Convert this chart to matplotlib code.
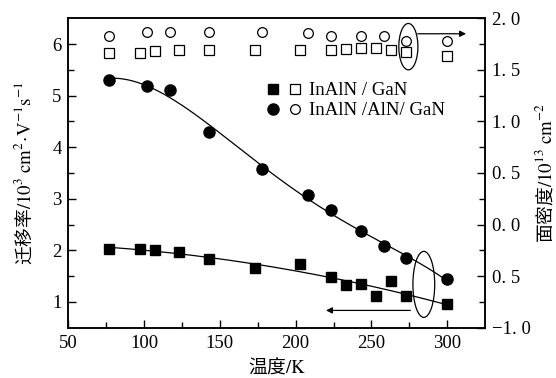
import numpy as np
import matplotlib
matplotlib.use("Agg")
import matplotlib.pyplot as plt
from matplotlib.patches import Ellipse
from matplotlib.lines import Line2D
from matplotlib.legend_handler import HandlerTuple

plt.rcParams["font.family"] = ["Liberation Serif", "Noto Sans CJK SC"]
plt.rcParams["mathtext.fontset"] = "stix"
plt.rcParams["font.size"] = 13.5

# InAlN/GaN
T_sq = [77, 97, 107, 123, 143, 173, 203, 223, 233, 243, 253, 263, 273, 300]
mu_sq = [2.03, 2.03, 2.00, 1.96, 1.84, 1.65, 1.74, 1.48, 1.33, 1.35, 1.12, 1.40, 1.11, 0.95]
ns_sq = [1.66, 1.66, 1.68, 1.69, 1.69, 1.69, 1.69, 1.69, 1.70, 1.71, 1.71, 1.69, 1.67, 1.63]

# InAlN/AlN/GaN
T_ci = [77, 102, 117, 143, 178, 208, 223, 243, 258, 273, 300]
mu_ci = [5.31, 5.18, 5.11, 4.29, 3.57, 3.08, 2.79, 2.37, 2.09, 1.85, 1.44]
ns_ci = [1.83, 1.87, 1.87, 1.87, 1.87, 1.86, 1.83, 1.83, 1.83, 1.78, 1.78]

left_ticks = [1, 2, 3, 4, 5, 6]
right_ticks = [2.0, 1.5, 1.0, 0.5, 0.0, -0.5, -1.0]
right_labels = ["2. 0", "1. 5", "1. 0", "0. 5", "0. 0", "0. 5", "\u22121. 0"]
x_ticks = [50, 100, 150, 200, 250, 300]

cjk = "Noto Sans CJK SC"

fig = plt.figure(figsize=(5.56, 3.78), dpi=100)
ax = fig.add_axes([0.1232, 0.1331, 0.8723 - 0.1232, 0.9516 - 0.1331])
ax2 = ax.twinx()

# fitted curves through the mobility points
tt = np.linspace(min(T_ci), max(T_ci), 200)
ax.plot(tt, np.polyval(np.polyfit(T_ci, mu_ci, 4), tt), color="k", lw=0.9)
tt = np.linspace(min(T_sq), max(T_sq), 200)
ax.plot(tt, np.polyval(np.polyfit(T_sq, mu_sq, 2), tt), color="k", lw=0.9)

ax.plot(T_sq, mu_sq, ls="none", marker="s", ms=7.2, color="k")
ax.plot(T_ci, mu_ci, ls="none", marker="o", ms=8, color="k")
ax2.plot(T_sq, ns_sq, ls="none", marker="s", ms=6.5, mfc="white", mec="k", mew=0.9)
ax2.plot(T_ci, ns_ci, ls="none", marker="o", ms=7, mfc="white", mec="k", mew=0.9)

ax.set_xlim(50, 325)
ax.set_ylim(0.5, 6.5)
ax2.set_ylim(-1.0, 2.0)

ax.set_xticks(x_ticks)
ax.set_xticks(np.arange(75, 325, 50), minor=True)
ax.set_yticks(left_ticks)
ax.set_yticks(np.arange(1.5, 6.5, 1.0), minor=True)
ax2.set_yticks(right_ticks)
ax2.set_yticklabels(right_labels)
ax2.set_yticks(np.arange(-0.75, 2.0, 0.5), minor=True)

for a in (ax, ax2):
    for s in a.spines.values():
        s.set_linewidth(1.1)
ax.tick_params(which="both", direction="in", top=False, right=False, width=1.0)
ax.tick_params(which="major", length=6, pad=5)
ax.tick_params(which="minor", length=4)
ax2.tick_params(which="both", direction="in", width=1.0)
ax2.tick_params(which="major", length=6, pad=5)
ax2.tick_params(which="minor", length=4)

ax.set_xlabel("温度$/\\mathrm{K}$", fontfamily=cjk, fontsize=13.5, va="center")
ax.xaxis.set_label_coords(0.5, -0.128)
ax.set_ylabel("迁移率$/10^3\\ \\mathrm{cm}^2\\!\\cdot\\!\\mathrm{V}^{-1}\\mathrm{s}^{-1}$",
              fontfamily=cjk, fontsize=13.5, va="center")
ax.yaxis.set_label_coords(-0.104, 0.5)
ax2.set_ylabel("面密度$/10^{13}\\ \\mathrm{cm}^{-2}$", fontfamily=cjk, fontsize=13.5,
               va="center", rotation=90)
ax2.yaxis.set_label_coords(1.146, 0.5)

# ellipses marking which axis each group belongs to
ax2.add_patch(Ellipse((274.4, 1.725), 12.6, 0.45, fill=False, ec="k", lw=0.9))
ax2.annotate("", xy=(312.5, 1.85), xytext=(280.6, 1.85),
             arrowprops=dict(arrowstyle="-|>", color="k", lw=0.9,
                             mutation_scale=9, shrinkA=0, shrinkB=0))
ax.add_patch(Ellipse((284.6, 1.34), 14.4, 1.28, fill=False, ec="k", lw=0.9))
ax.annotate("", xy=(220, 0.835), xytext=(275.7, 0.835),
            arrowprops=dict(arrowstyle="-|>", color="k", lw=0.9,
                            mutation_scale=9, shrinkA=0, shrinkB=0))

h_sq = (Line2D([], [], ls="none", marker="s", ms=7.2, color="k"),
        Line2D([], [], ls="none", marker="s", ms=6.5, mfc="white", mec="k", mew=0.9))
h_ci = (Line2D([], [], ls="none", marker="o", ms=8, color="k"),
        Line2D([], [], ls="none", marker="o", ms=7, mfc="white", mec="k", mew=0.9))
ax2.legend([h_sq, h_ci], ["InAlN / GaN", "InAlN /AlN/ GaN"],
           handler_map={tuple: HandlerTuple(ndivide=None, pad=0.64)},
           loc="upper left", bbox_to_anchor=(0.479, 0.794), frameon=False,
           borderpad=0, borderaxespad=0, handlelength=1.7, handletextpad=0.5,
           labelspacing=0.15, fontsize=13.5)

fig.savefig("out.png", dpi=100)
